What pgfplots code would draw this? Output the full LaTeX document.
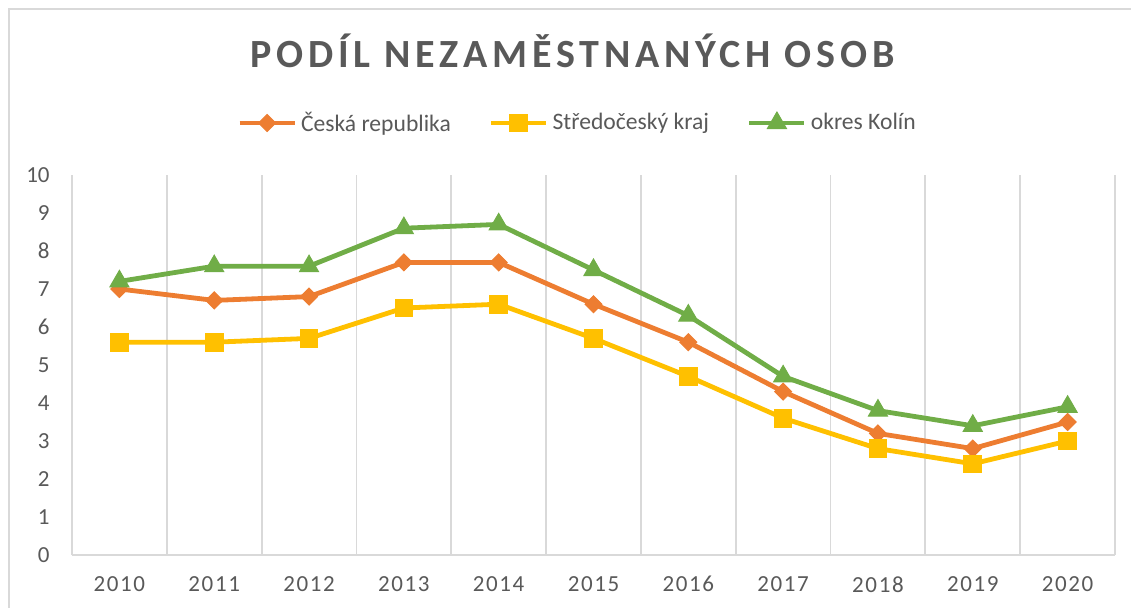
\documentclass[border=0pt]{standalone}
\usepackage{fontspec}
\setmainfont{Carlito}
\newfontfamily\spacedfont[LetterSpace=7]{Carlito}
\newfontfamily\titlefont[LetterSpace=12]{Carlito}
\usepackage{pgfplots}
\pgfplotsset{compat=1.18}
\definecolor{cOrange}{HTML}{ED7D31}
\definecolor{cYellow}{HTML}{FFC000}
\definecolor{cGreen}{HTML}{70AD47}
\definecolor{cText}{HTML}{595959}
\definecolor{cGrid}{HTML}{D9D9D9}
\begin{document}
\begin{tikzpicture}
\useasboundingbox (0pt,0pt) rectangle (565.5pt,303.5pt);
\draw[cGrid, line width=0.8pt] (4.5pt,-30pt) -- (4.5pt,299pt) -- (620pt,299pt);
\begin{axis}[
  at={(36pt,26pt)}, anchor=south west,
  scale only axis, width=521.5pt, height=190pt,
  xmin=-0.5, xmax=10.5, ymin=0, ymax=10,
  xtick={0,...,10},
  xticklabels={2010,2011,2012,2013,2014,2015,2016,2017,2018,2019,2020},
  ytick={0,...,10},
  minor xtick={-0.5,0.5,...,10.5},
  xminorgrids,
  minor grid style={cGrid, line width=0.9pt},
  major tick length=0pt, minor tick length=0pt,
  tick style={draw=none},
  separate axis lines,
  axis x line*=bottom, axis y line*=left,
  x axis line style={draw=cGrid, line width=0.9pt, -},
  y axis line style={draw=none},
  /pgf/number format/assume math mode=true,
  yticklabel style={anchor=east, inner sep=0pt, xshift=-11pt, text=cText, font=\fontsize{11.5}{13}\selectfont},
  xticklabel style={anchor=north, inner sep=0pt, yshift=-10.5pt, text=cText, font=\spacedfont\fontsize{11.5}{13}\selectfont},
  legend columns=3,
  legend style={at={(0.4856,1.1368)}, anchor=center, draw=none, fill=none,
    font=\fontsize{11.8}{14}\selectfont, text=cText,
    /tikz/every even column/.append style={column sep=17pt},
    inner sep=0pt, row sep=0pt},
  legend cell align=left,
  legend image code/.code={%
    \draw[mark repeat=2,mark phase=2] plot coordinates {(0pt,0pt) (13.75pt,0pt) (27.5pt,0pt)};},
  every axis plot/.append style={line width=2.4pt},
]
\addplot[cOrange, mark=square*, mark size=3pt, mark options={rotate=45, line width=0.5pt, fill=cOrange}]
  coordinates {(0,7.0) (1,6.7) (2,6.8) (3,7.7) (4,7.7) (5,6.6) (6,5.6) (7,4.3) (8,3.2) (9,2.8) (10,3.5)};
\addlegendentry{Česká republika}
\addplot[cYellow, mark=square*, mark size=4.4pt, mark options={line width=0.5pt, fill=cYellow}]
  coordinates {(0,5.6) (1,5.6) (2,5.7) (3,6.5) (4,6.6) (5,5.7) (6,4.7) (7,3.6) (8,2.8) (9,2.4) (10,3.0)};
\addlegendentry{Středočeský kraj}
\addplot[cGreen, mark=triangle*, mark size=5.5pt, mark options={line width=0.5pt, fill=cGreen}]
  coordinates {(0,7.2) (1,7.6) (2,7.6) (3,8.6) (4,8.7) (5,7.5) (6,6.3) (7,4.7) (8,3.8) (9,3.4) (10,3.9)};
\addlegendentry{okres Kolín}
\end{axis}
\node[anchor=base, inner sep=0pt, text=cText, font=\titlefont\bfseries\fontsize{20}{24}\selectfont] at (286.25pt,269.5pt) {PODÍL NEZAMĚSTNANÝCH OSOB};
\end{tikzpicture}
\end{document}
